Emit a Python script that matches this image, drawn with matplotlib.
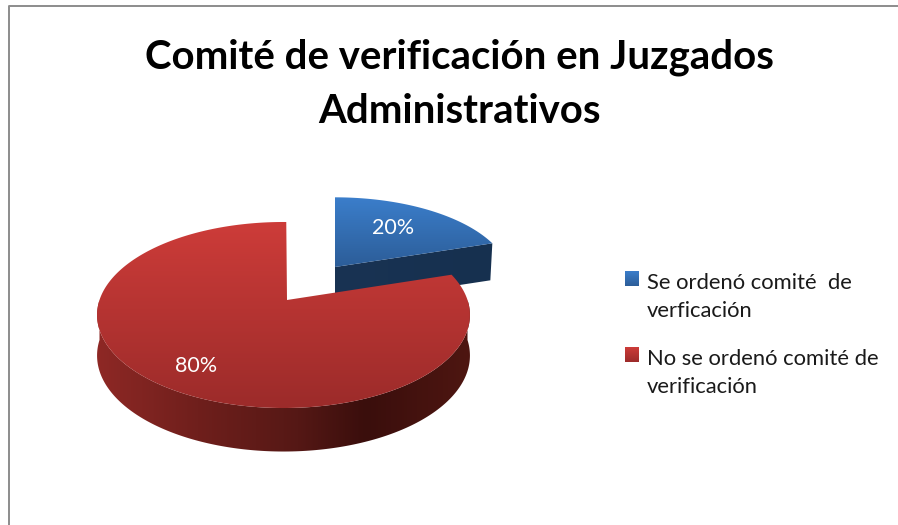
import numpy as np
import matplotlib
matplotlib.use("Agg")
import matplotlib.pyplot as plt
from matplotlib.colors import LinearSegmentedColormap
from matplotlib.patches import Polygon

plt.rcParams["font.family"] = ["Lato", "DejaVu Sans"]

# data
title = "Comité de verificación en Juzgados\nAdministrativos"
categories = ["Se ordenó comité  de\nverficación", "No se ordenó comité de\nverificación"]
values = [20, 80]
top_colors = [["#3b7ecb", "#2c5d98"], ["#cd3c39", "#9c2b2a"]]

# geometry of the tilted pie, in pixels
R = 184.0
C = 0.1613
cx = 283.5
y0 = 300.0
ky = 42.2
depth = 40.0
blue_x = 335.0
blue_dv = 0.387
red_apex = (287.0, 300.0)

fig = plt.figure(figsize=(8.98, 5.25), dpi=100)
ax = fig.add_axes([0, 0, 1, 1])
ax.axis("off")


def project(u, v, x0):
    den = 1 + C * v
    return x0 + R * u / den, (y0 - ky * v) / den


def wall(v):
    return depth / (1 + 0.5 * C * v)


def gradient(poly_xy, colors, horizontal=False, stops=None):
    xy = np.array(poly_xy)
    x1, x2 = xy[:, 0].min(), xy[:, 0].max()
    y1, y2 = xy[:, 1].min(), xy[:, 1].max()
    if stops is None:
        cmap = LinearSegmentedColormap.from_list("g", colors)
    else:
        cmap = LinearSegmentedColormap.from_list("g", list(zip(stops, colors)))
    g = np.linspace(0, 1, 256)
    g = g.reshape(1, -1) if horizontal else g.reshape(-1, 1)
    im = ax.imshow(g, cmap=cmap, extent=(x1, x2, y2, y1), aspect="auto", zorder=2)
    im.set_clip_path(Polygon(xy, closed=True, transform=ax.transData))
    return im


total = sum(values)
sweep = [360.0 * v / total for v in values]

# blue slice, pulled out of the pie
a = np.radians(np.linspace(0, sweep[0], 80))
u, v = np.sin(a), np.cos(a) + blue_dv
bx, by = project(u, v, blue_x)
b_apex = project(0, blue_dv, blue_x)
corner = (bx[-1], by[-1])
side = [b_apex, corner, (corner[0] - 2, corner[1] + 37), (b_apex[0], b_apex[1] + 37)]
gradient(side, ["#193353", "#16304f"], horizontal=True)
blue_top = [b_apex] + list(zip(bx, by))
gradient(blue_top, top_colors[0])

# red slice, side wall first
a = np.radians(np.linspace(sweep[0] + 1, 361, 300))
u, v = np.sin(a), np.cos(a)
rx, ry = project(u, v, cx)
a2 = np.radians(np.linspace(90, 270, 200))
wu, wv = np.sin(a2), np.cos(a2)
wx, wy = project(wu, wv, cx)
low = wy + wall(wv)
red_side = list(zip(wx, wy)) + list(zip(wx[::-1], low[::-1]))
gradient(red_side,
         ["#8e2825", "#6f1f1c", "#551815", "#3a0e0c", "#4e1611"],
         horizontal=True, stops=[0, 0.27, 0.54, 0.72, 1])
red_top = [red_apex] + list(zip(rx, ry))
gradient(red_top, top_colors[1])

ax.text(393, 228, f"{values[0]}%", color="white", fontsize=15.5, ha="center", va="center", zorder=5)
ax.text(196, 366, f"{values[1]}%", color="white", fontsize=15.5, ha="center", va="center", zorder=5)

# title
ax.text(459, 84, title, fontsize=28.9, fontweight="bold", color="black",
        ha="center", va="center", linespacing=1.58, zorder=5)

# legend
leg_y = [278, 354]
for name, col, ly in zip(categories, top_colors, leg_y):
    gradient([(625, ly - 7), (639, ly - 7), (639, ly + 8), (625, ly + 8)], col)
    ax.text(647, ly + 19, name, fontsize=15.8, color="#1a1a1a", ha="left", va="center",
            linespacing=1.47, zorder=5)

# frame of the chart area
ax.plot([8.5, 8.5, 898], [525, 6, 6], color="#8c8c8c", lw=1.4, zorder=6)

ax.set_xlim(0, 898)
ax.set_ylim(525, 0)
fig.savefig("out.png", dpi=100)
